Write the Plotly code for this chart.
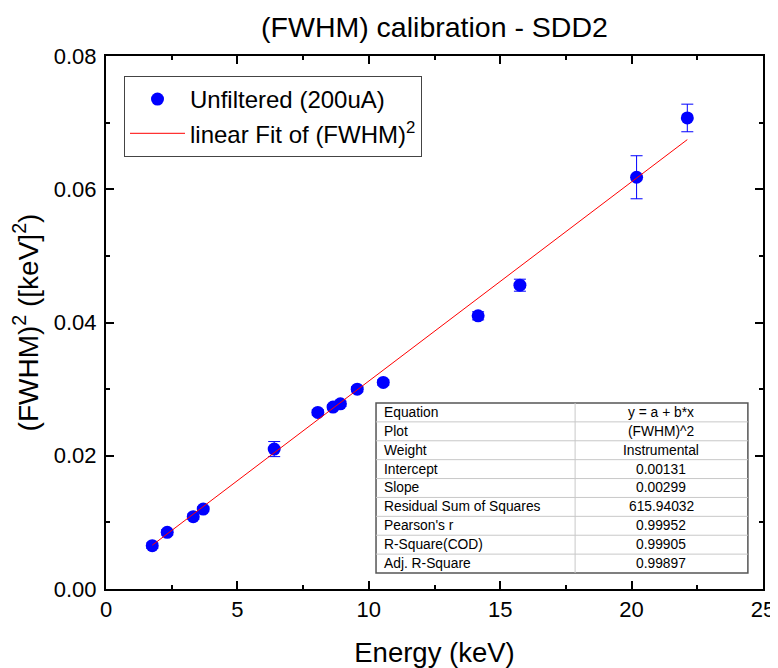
import numpy as np
import plotly.graph_objects as go

# ---- data ----
energy_keV = [1.76, 2.33, 3.32, 3.70, 6.40, 8.06, 8.64, 8.92, 9.56, 10.55, 14.16, 15.75, 20.19, 22.12]
fwhm_sq = [0.0065, 0.0085, 0.01085, 0.0120, 0.0210, 0.0265, 0.0273, 0.0278, 0.0300, 0.0310, 0.0410, 0.0456, 0.0618, 0.0707]
fwhm_sq_err = [0.0004, 0.0004, 0.0004, 0.0004, 0.00113, 0.0004, 0.0004, 0.0004, 0.0004, 0.0004, 0.0006, 0.0009, 0.00323, 0.00207]

intercept = 0.00131
slope = 0.00299

table_labels = ["Equation", "Plot", "Weight", "Intercept", "Slope",
                "Residual Sum of Squares", "Pearson's r", "R-Square(COD)", "Adj. R-Square"]
table_values = ["y = a + b*x", "(FWHM)^2", "Instrumental", "0.00131", "0.00299",
                "615.94032", "0.99952", "0.99905", "0.99897"]

x_ticks = [0, 5, 10, 15, 20, 25]
y_ticks = [0.00, 0.02, 0.04, 0.06, 0.08]

FONT = "Liberation Sans, Arial, sans-serif"

# page body has an 8px default margin; size the figure so the plot lands where the reference has it
W, H = 770, 660
ML, MR, MT, MB = 98, 15, 48, 79

fit_x = np.array([min(energy_keV), max(energy_keV)])
fit_y = intercept + slope * fit_x

fig = go.Figure()
fig.add_trace(go.Scatter(
    x=energy_keV, y=fwhm_sq, mode="markers",
    marker=dict(color="#0000ff", size=13),
    error_y=dict(type="data", array=fwhm_sq_err, visible=True,
                 color="#0000ff", thickness=1, width=6),
    name="Unfiltered (200uA)",
))
fig.add_trace(go.Scatter(
    x=fit_x, y=fit_y, mode="lines",
    line=dict(color="#ff0000", width=1),
    name="linear Fit of (FWHM)<sup>2</sup>",
))

# ---- parameter table (paper coordinates) ----
x0, x1, xm = 0.411, 0.977, 0.714
y_top, y_bot = 0.349, 0.030
n = len(table_labels)
rh = (y_top - y_bot) / n
shapes = [dict(type="rect", xref="paper", yref="paper", x0=x0, x1=x1, y0=y_bot, y1=y_top,
               fillcolor="white", line=dict(color="#555555", width=1.5), layer="above")]
for i in range(1, n):
    yy = y_top - i * rh
    shapes.append(dict(type="line", xref="paper", yref="paper", x0=x0, x1=x1, y0=yy, y1=yy,
                       line=dict(color="#c8c8c8", width=1), layer="above"))
shapes.append(dict(type="line", xref="paper", yref="paper", x0=xm, x1=xm, y0=y_bot, y1=y_top,
                   line=dict(color="#c8c8c8", width=1), layer="above"))
annotations = []
for i, (lab, val) in enumerate(zip(table_labels, table_values)):
    yc = y_top - (i + 0.5) * rh
    annotations.append(dict(xref="paper", yref="paper", x=x0 + 0.009, y=yc, text=lab,
                            showarrow=False, xanchor="left", yanchor="middle",
                            font=dict(family=FONT, size=13.8, color="black")))
    annotations.append(dict(xref="paper", yref="paper", x=(xm + x1) / 2, y=yc, text=val,
                            showarrow=False, xanchor="center", yanchor="middle",
                            font=dict(family=FONT, size=13.8, color="black")))

axis_common = dict(
    showline=True, linecolor="black", linewidth=2, mirror="ticks",
    ticks="inside", ticklen=8, tickwidth=2, tickcolor="black",
    showgrid=False, zeroline=False, automargin=False,
    tickfont=dict(family=FONT, size=22, color="black"),
)

fig.update_layout(
    width=W, height=H,
    margin=dict(l=ML, r=MR, t=MT, b=MB),
    paper_bgcolor="white", plot_bgcolor="white",
    font=dict(family=FONT, color="black"),
    title=dict(text="(FWHM) calibration - SDD2", x=(ML + (W - MR)) / 2 / W, xanchor="center",
               y=1 - 19 / H, yanchor="middle", yref="container", automargin=False,
               font=dict(family=FONT, size=28.5, color="black")),
    xaxis=dict(range=[0, 25], tickvals=x_ticks, ticktext=[str(t) for t in x_ticks],
               minor=dict(ticks="inside", ticklen=4, tickwidth=2, dtick=2.5, tickcolor="black"),
               title=dict(text="Energy (keV)", font=dict(family=FONT, size=27.5, color="black"), standoff=22),
               **axis_common),
    yaxis=dict(range=[0, 0.08], tickvals=y_ticks, ticktext=[f"{t:.2f}" for t in y_ticks],
               minor=dict(ticks="inside", ticklen=4, tickwidth=2, dtick=0.01, tickcolor="black"),
               title=dict(text="(FWHM)<sup>2</sup> ([keV]<sup>2</sup>)",
                          font=dict(family=FONT, size=28, color="black"), standoff=10),
               ticklabelstandoff=3,
               **axis_common),
    legend=dict(x=(124 - 106) / 657, y=(589 - 76) / 533, xanchor="left", yanchor="top",
                bgcolor="white", bordercolor="#444444", borderwidth=1,
                font=dict(family=FONT, size=24, color="black"),
                itemwidth=55),
    shapes=shapes,
    annotations=annotations,
    showlegend=True,
)

fig.write_html("out.html")
